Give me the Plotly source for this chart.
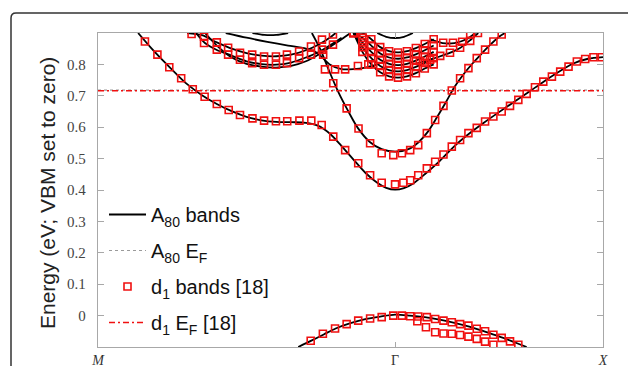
import plotly.graph_objects as go

# ---------------- data (k along M-Gamma-X path, energy in eV) ----------------
k_tickvals = [0.0, 1.0, 1.7]
k_ticktext = ["<i>M</i>", "Γ", "<i>X</i>"]
e_tickvals = [0.0, 0.1, 0.2, 0.3, 0.4, 0.5, 0.6, 0.7, 0.8]
e_ticktext = ["0", "0.1", "0.2", "0.3", "0.4", "0.5", "0.6", "0.7", "0.8"]

a80_ef = 0.718
d1_ef = 0.716

# A80 bands (black lines)
a80_vb_k = [0.674, 0.72, 0.76, 0.80, 0.85, 0.90, 0.95, 1.00, 1.05, 1.10, 1.15, 1.20, 1.25, 1.30, 1.35, 1.40, 1.443]
a80_vb_e = [-0.100, -0.079, -0.060, -0.041, -0.024, -0.011, -0.003, 0.003, 0.000, -0.005, -0.013, -0.023, -0.035, -0.050, -0.066, -0.084, -0.100]

a80_cb1_k = [0.135, 0.18, 0.22, 0.26, 0.30, 0.35, 0.40, 0.45, 0.50, 0.55, 0.60, 0.65, 0.70, 0.74, 0.78, 0.82, 0.86, 0.90, 0.94, 0.97, 1.00,
             1.03, 1.06, 1.10, 1.15, 1.20, 1.25, 1.30, 1.35, 1.40, 1.45, 1.50, 1.55, 1.60, 1.65, 1.70]
a80_cb1_e = [0.900, 0.851, 0.811, 0.773, 0.737, 0.702, 0.674, 0.651, 0.633, 0.622, 0.617, 0.616, 0.614, 0.605, 0.580, 0.540, 0.497, 0.455, 0.423, 0.407, 0.401,
             0.406, 0.420, 0.450, 0.492, 0.540, 0.580, 0.615, 0.648, 0.680, 0.712, 0.745, 0.776, 0.803, 0.818, 0.823]

a80_cb2_k = [0.72, 0.75, 0.78, 0.81, 0.84, 0.875, 0.915, 0.955, 1.00, 1.045, 1.08, 1.11, 1.14, 1.17, 1.20, 1.23, 1.26, 1.29, 1.32, 1.35, 1.37]
a80_cb2_e = [0.900, 0.845, 0.775, 0.710, 0.655, 0.597, 0.553, 0.530, 0.522, 0.530, 0.553, 0.585, 0.630, 0.678, 0.728, 0.768, 0.802, 0.833, 0.862, 0.888, 0.900]

a80_u1_k = [0.30, 0.35, 0.40, 0.45, 0.50, 0.55, 0.60, 0.65, 0.70, 0.74, 0.78, 0.80]
a80_u1_e = [0.900, 0.893, 0.870, 0.850, 0.836, 0.828, 0.826, 0.831, 0.845, 0.862, 0.885, 0.900]
a80_u2_k = [0.33, 0.36, 0.40, 0.45, 0.50, 0.55, 0.60, 0.65, 0.70, 0.74, 0.78, 0.82]
a80_u2_e = [0.900, 0.868, 0.846, 0.828, 0.810, 0.801, 0.799, 0.806, 0.822, 0.838, 0.860, 0.885]
a80_u3_k = [0.36, 0.40, 0.45, 0.50, 0.55, 0.60, 0.65, 0.70, 0.74, 0.78, 0.82, 0.85]
a80_u3_e = [0.900, 0.860, 0.822, 0.802, 0.793, 0.790, 0.795, 0.810, 0.830, 0.855, 0.880, 0.900]
a80_arc_k = [0.43, 0.50, 0.57, 0.64, 0.70, 0.74, 0.78, 0.82, 0.86, 0.90, 0.94]
a80_arc_e = [0.900, 0.885, 0.872, 0.860, 0.850, 0.835, 0.800, 0.785, 0.785, 0.790, 0.800]
a80_top1_k = [0.52, 0.56, 0.60, 0.64]
a80_top1_e = [0.900, 0.894, 0.894, 0.900]
a80_top2_k = [0.94, 0.97, 1.00, 1.03, 1.06]
a80_top2_e = [0.900, 0.888, 0.884, 0.888, 0.900]
a80_chain_k = [1.06, 1.10, 1.14, 1.18, 1.22, 1.25, 1.28]
a80_chain_e = [0.800, 0.810, 0.822, 0.835, 0.853, 0.875, 0.900]
a80_ur_k = [1.12, 1.16, 1.20, 1.24, 1.27]
a80_ur_e = [0.880, 0.868, 0.868, 0.880, 0.900]

cluster_k = [0.86, 0.89, 0.92, 0.95, 0.98, 1.01, 1.04, 1.07, 1.10, 1.13]
cluster_r1_e = [0.900, 0.840, 0.800, 0.775, 0.762, 0.758, 0.762, 0.772, 0.787, 0.800]
cluster_r2_e = [0.900, 0.855, 0.820, 0.795, 0.782, 0.778, 0.782, 0.792, 0.805, 0.820]
cluster_r3_e = [0.900, 0.870, 0.840, 0.815, 0.802, 0.798, 0.802, 0.812, 0.825, 0.840]
cluster_r4_e = [0.900, 0.885, 0.860, 0.835, 0.822, 0.818, 0.822, 0.832, 0.845, 0.860]
cluster_r5_e = [0.900, 0.900, 0.880, 0.855, 0.842, 0.838, 0.842, 0.852, 0.865, 0.880]

# d1 bands [18] (red squares)
d1_vb_k = [0.716, 0.757, 0.798, 0.837, 0.876, 0.916, 0.955, 0.994, 1.023, 1.051, 1.078, 1.107, 1.135, 1.163, 1.191, 1.219, 1.247,
           1.275, 1.303, 1.331, 1.359, 1.387, 1.415]
d1_vb_e = [-0.080, -0.058, -0.041, -0.027, -0.016, -0.009, -0.005, 0.000, 0.000, -0.002, -0.003, -0.005, -0.011, -0.016, -0.021, -0.027,
           -0.032, -0.042, -0.050, -0.061, -0.071, -0.082, -0.093]
d1_vb2_k = [1.075, 1.104, 1.135, 1.163, 1.191, 1.219, 1.247, 1.275, 1.303, 1.331]
d1_vb2_e = [-0.018, -0.037, -0.053, -0.057, -0.058, -0.062, -0.067, -0.074, -0.083, -0.093]

d1_cb1_k = [0.158, 0.200, 0.240, 0.280, 0.319, 0.359, 0.400, 0.440, 0.478, 0.520, 0.559, 0.599, 0.637, 0.678, 0.718, 0.753, 0.792, 0.832,
            0.876, 0.916, 0.955, 1.000, 1.028, 1.051, 1.078, 1.107, 1.135, 1.163, 1.191, 1.219, 1.247, 1.275, 1.303, 1.331, 1.359, 1.387,
            1.415, 1.443, 1.471, 1.499, 1.528, 1.556, 1.584, 1.612, 1.640, 1.668, 1.696]
d1_cb1_e = [0.873, 0.831, 0.791, 0.756, 0.721, 0.697, 0.674, 0.655, 0.639, 0.628, 0.621, 0.619, 0.619, 0.621, 0.621, 0.607, 0.570, 0.527,
            0.485, 0.447, 0.423, 0.418, 0.423, 0.431, 0.447, 0.469, 0.490, 0.513, 0.538, 0.559, 0.581, 0.598, 0.618, 0.634, 0.650, 0.668,
            0.687, 0.706, 0.727, 0.745, 0.761, 0.777, 0.793, 0.809, 0.817, 0.823, 0.823]

d1_cb2_k = [0.758, 0.792, 0.837, 0.877, 0.916, 0.955, 0.994, 1.023, 1.051, 1.078, 1.107, 1.135, 1.163, 1.191, 1.219, 1.247, 1.275, 1.303,
            1.331, 1.359]
d1_cb2_e = [0.831, 0.740, 0.660, 0.596, 0.549, 0.517, 0.511, 0.517, 0.527, 0.543, 0.581, 0.623, 0.668, 0.717, 0.756, 0.788, 0.820, 0.847,
            0.873, 0.895]

d1_u1_k = [0.315, 0.357, 0.400, 0.438, 0.478, 0.519, 0.559, 0.599, 0.636, 0.677, 0.717, 0.754, 0.791]
d1_u1_e = [0.897, 0.888, 0.870, 0.853, 0.837, 0.831, 0.825, 0.825, 0.831, 0.841, 0.857, 0.879, 0.895]
d1_u2_k = [0.357, 0.400, 0.438, 0.478, 0.519, 0.559, 0.599, 0.636, 0.677, 0.717, 0.754, 0.791]
d1_u2_e = [0.868, 0.847, 0.831, 0.815, 0.804, 0.799, 0.799, 0.804, 0.820, 0.831, 0.847, 0.863]
d1_flat_k = [0.764, 0.798, 0.832, 0.875, 0.910]
d1_flat_e = [0.784, 0.784, 0.784, 0.795, 0.800]
d1_chain_k = [1.084, 1.118, 1.152, 1.185, 1.219, 1.253, 1.279]
d1_chain_e = [0.811, 0.815, 0.827, 0.837, 0.853, 0.875, 0.900]
d1_ur_k = [1.162, 1.195, 1.226, 1.253]
d1_ur_e = [0.869, 0.869, 0.872, 0.895]

# ---------------- figure ----------------
fig = go.Figure()

BLACK = "#000000"
RED = "#f01010"

a80_bands = [
    (a80_vb_k, a80_vb_e), (a80_cb1_k, a80_cb1_e), (a80_cb2_k, a80_cb2_e),
    (a80_u1_k, a80_u1_e), (a80_u2_k, a80_u2_e), (a80_u3_k, a80_u3_e),
    (a80_arc_k, a80_arc_e), (a80_top1_k, a80_top1_e), (a80_top2_k, a80_top2_e),
    (a80_chain_k, a80_chain_e), (a80_ur_k, a80_ur_e),
    (cluster_k, cluster_r1_e), (cluster_k, cluster_r2_e), (cluster_k, cluster_r3_e),
    (cluster_k, cluster_r4_e), (cluster_k, cluster_r5_e),
]
d1_bands = [
    (d1_vb_k, d1_vb_e), (d1_vb2_k, d1_vb2_e), (d1_cb1_k, d1_cb1_e), (d1_cb2_k, d1_cb2_e),
    (d1_u1_k, d1_u1_e), (d1_u2_k, d1_u2_e), (d1_flat_k, d1_flat_e),
    (d1_chain_k, d1_chain_e), (d1_ur_k, d1_ur_e),
    (cluster_k, cluster_r1_e), (cluster_k, cluster_r2_e), (cluster_k, cluster_r3_e),
    (cluster_k, cluster_r4_e), (cluster_k, cluster_r5_e),
]

# A80 Fermi level (gray dotted)
fig.add_trace(go.Scatter(
    x=[k_tickvals[0], k_tickvals[-1]], y=[a80_ef, a80_ef], mode="lines",
    line=dict(color="#9a9a9a", width=1.2, dash="dot"),
    name="A<sub>80</sub> E<sub>F</sub>", legendgroup="g2", legendrank=2, showlegend=True))

for i, (kk, ee) in enumerate(a80_bands):
    fig.add_trace(go.Scatter(
        x=kk, y=ee, mode="lines", line=dict(color=BLACK, width=1.8, shape="spline", smoothing=0.8),
        name="A<sub>80</sub> bands", legendgroup="g1", legendrank=1, showlegend=(i == 0)))

for i, (kk, ee) in enumerate(d1_bands):
    fig.add_trace(go.Scatter(
        x=kk, y=ee, mode="markers",
        marker=dict(symbol="square-open", size=7, color=RED, line=dict(color=RED, width=1.6)),
        name="d<sub>1</sub> bands [18]", legendgroup="g3", legendrank=3, showlegend=(i == 0)))

fig.add_trace(go.Scatter(
    x=[k_tickvals[0], k_tickvals[-1]], y=[d1_ef, d1_ef], mode="lines",
    line=dict(color=RED, width=1.6, dash="6px,3px,2px,3px"),
    name="d<sub>1</sub> E<sub>F</sub> [18]", legendgroup="g4", legendrank=4, showlegend=True))

W, H = 629, 367
L, R, T, B = 98, 603, 33, 347

fig.update_layout(
    width=W, height=H, autosize=False,
    margin=dict(l=L, r=W - R, t=T, b=H - B, pad=0, autoexpand=False),
    paper_bgcolor="white", plot_bgcolor="white",
    showlegend=True,
    legend=dict(
        x=(104 - L) / (R - L), y=(B - 195) / (B - T), xanchor="left", yanchor="top",
        bgcolor="rgba(0,0,0,0)", borderwidth=0,
        font=dict(family="Liberation Sans, Arial, sans-serif", size=20, color="#111"),
        tracegroupgap=7, itemwidth=37, traceorder="grouped",
    ),
    font=dict(family="Liberation Sans, Arial, sans-serif"),
)

fig.update_xaxes(
    range=[k_tickvals[0], k_tickvals[-1]], tickvals=k_tickvals, ticktext=k_ticktext,
    showgrid=False, zeroline=False, showline=True, linecolor="#a8a8a8", linewidth=1.3, mirror="ticks",
    ticks="inside", ticklen=5, tickcolor="#a8a8a8", tickwidth=1,
    tickfont=dict(family="Liberation Serif", size=14, color="#333"),
)
fig.update_yaxes(
    range=[-0.1, 0.9], tickvals=e_tickvals, ticktext=e_ticktext,
    showgrid=False, zeroline=False, showline=True, linecolor="#a8a8a8", linewidth=1.3, mirror="ticks",
    ticks="inside", ticklen=6, tickcolor="#a8a8a8", tickwidth=1,
    tickfont=dict(family="Liberation Serif", size=15, color="#444"),
    ticklabelstandoff=8,
)

# y-axis title
fig.add_annotation(
    text="Energy (eV; VBM set to zero)", textangle=-90, showarrow=False,
    xref="paper", yref="paper", x=(47 - L) / (R - L), y=(B - 193) / (B - T),
    xanchor="center", yanchor="middle",
    font=dict(family="Liberation Sans, Arial, sans-serif", size=21, color="#222"),
)

# outer rounded frame of the figure panel (kept inside the page)
def px_x(p):
    return (p - L) / (R - L)

def px_y(p):
    return (B - p) / (B - T)

x0, y0, rr = 11, 13, 5
path = (f"M {px_x(x0)},{px_y(H - 1)} L {px_x(x0)},{px_y(y0 + rr)} "
        f"Q {px_x(x0)},{px_y(y0)} {px_x(x0 + rr)},{px_y(y0)} L {px_x(W - 1)},{px_y(y0)}")
fig.add_shape(type="path", path=path, xref="paper", yref="paper",
              line=dict(color="#333333", width=1.5), layer="above")

fig.write_html("out.html")
